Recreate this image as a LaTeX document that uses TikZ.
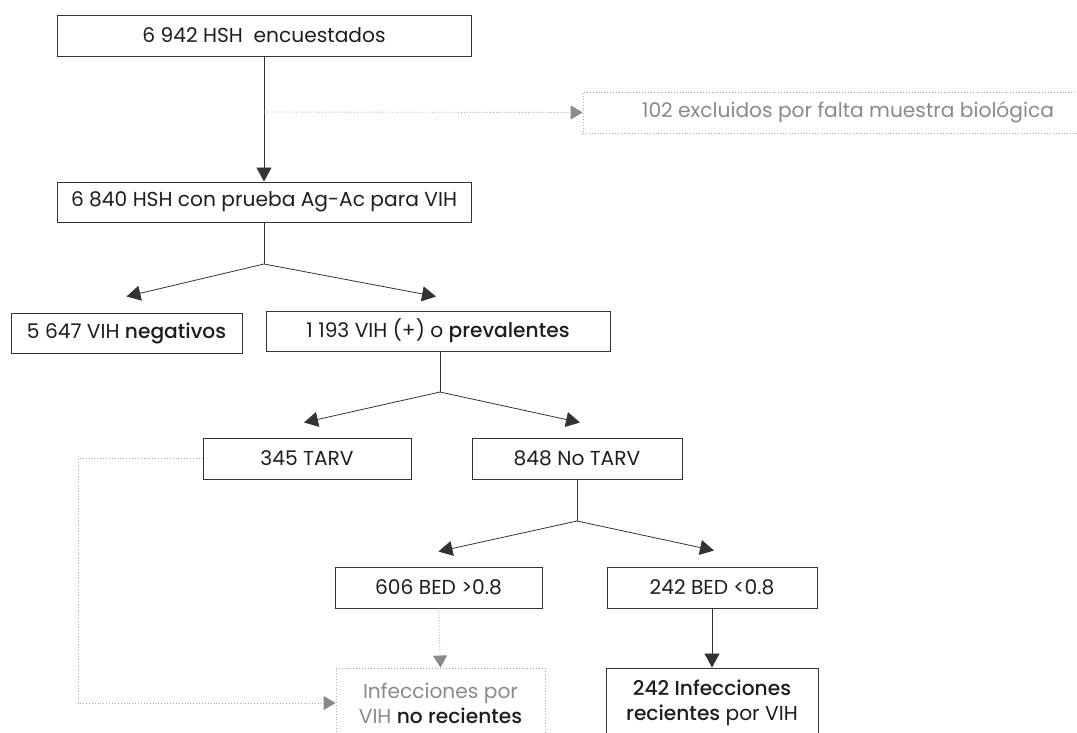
\documentclass[tikz,border=0pt]{standalone}
\usepackage{fontspec}
\setmainfont{Poppins}[BoldFont={Poppins Medium}]
\usetikzlibrary{arrows.meta,calc}
\definecolor{txt}{HTML}{1E1E1E}
\definecolor{edge}{HTML}{333333}
\definecolor{faint}{HTML}{8A8A8A}
\definecolor{faintline}{HTML}{ABABAB}
\tikzset{
  box/.style={draw=edge, line width=1pt, rectangle, inner sep=0pt, text=txt,
    font=\fontsize{20.2}{25}\selectfont, align=center},
  ghostbox/.style={draw=faintline, line width=0.9pt, dotted, rectangle, inner sep=0pt,
    text=faint, font=\fontsize{20.2}{25}\selectfont, align=center},
  link/.style={draw=edge, line width=0.8pt},
  arr/.style={link, -{Triangle[width=15pt,length=14pt]}},
  ghostlink/.style={draw=faintline, line width=0.9pt, dotted},
  ghostarr/.style={ghostlink, -{Triangle[width=14pt,length=12pt,color=faint,fill=faint]}},
}
\begin{document}
\begin{tikzpicture}[x=1pt,y=-1pt]
\useasboundingbox (0,0) rectangle (1077,732);
\fill[white] (0,0) rectangle (1077,732);
\clip (0,0) rectangle (1077,732);

% nodes
\node[box, minimum width=414pt, minimum height=41pt] (b1) at (264,35.5) {6 942 HSH\ \ encuestados};
\node[box, minimum width=414pt, minimum height=40pt] (b2) at (264,202) {6 840 HSH con prueba Ag-Ac para VIH};
\node[ghostbox, minimum width=530pt, minimum height=41pt] (b3) at (848,112.5) {102 excluidos por falta muestra biológica};
\node[box, minimum width=231pt, minimum height=40pt] (neg) at (126.5,333) {5 647 VIH \textbf{negativos}};
\node[box, minimum width=344pt, minimum height=40pt] (prev) at (438,331) {1 193 VIH (+) o \textbf{prevalentes}};
\node[box, minimum width=208pt, minimum height=41pt] (tarv) at (307,458.5) {345 TARV};
\node[box, minimum width=210pt, minimum height=41pt] (notarv) at (577,458.5) {848 No TARV};
\node[box, minimum width=207pt, minimum height=41pt] (bedhi) at (438.5,587.5) {606 BED >0.8};
\node[box, minimum width=210pt, minimum height=41pt] (bedlo) at (712,587.5) {242 BED <0.8};
\node[ghostbox, minimum width=209pt, minimum height=70pt] (norec) at (440.5,703)
  {Infecciones por\\VIH \textcolor{txt}{\textbf{no recientes}}};
\node[box, minimum width=212pt, minimum height=70pt] (rec) at (712,703)
  {\textbf{242 Infecciones}\\\textbf{recientes} por VIH};

% junction coordinates
\coordinate (j0) at (264,112);
\coordinate (j1) at (264,264);
\coordinate (j2) at (440,392);
\coordinate (j3) at (577,521);
\coordinate (c1) at (78,458.5);
\coordinate (t1) at ([yshift=16pt]neg.north);
\coordinate (t2) at ([yshift=14pt,xshift=-2pt]prev.north);
\coordinate (t3) at ([yshift=15pt,xshift=-3pt]tarv.north);
\coordinate (t4) at ([yshift=15pt,xshift=3pt]notarv.north);
\coordinate (t5) at ([yshift=15pt]bedhi.north);
\coordinate (t6) at ([yshift=16pt,xshift=2pt]bedlo.north);

% connectors
\draw[arr] (b1) -- (b2);
\draw[ghostarr] (j0) -- (b3.west);
\draw[link] (b2.south) -- (j1);
\draw[arr] (j1) -- (t1);
\draw[arr] (j1) -- (t2);
\draw[link] (prev.south -| j2) -- (j2);
\draw[arr] (j2) -- (t3);
\draw[arr] (j2) -- (t4);
\draw[link] (notarv.south) -- (j3);
\draw[arr] (j3) -- (t5);
\draw[arr] (j3) -- (t6);
\draw[ghostarr] (bedhi.south) -- (norec.north);
\draw[arr] (bedlo.south) -- (rec.north);
\draw[ghostarr] (tarv.west) -- (c1) |- (norec.west);
\end{tikzpicture}
\end{document}
